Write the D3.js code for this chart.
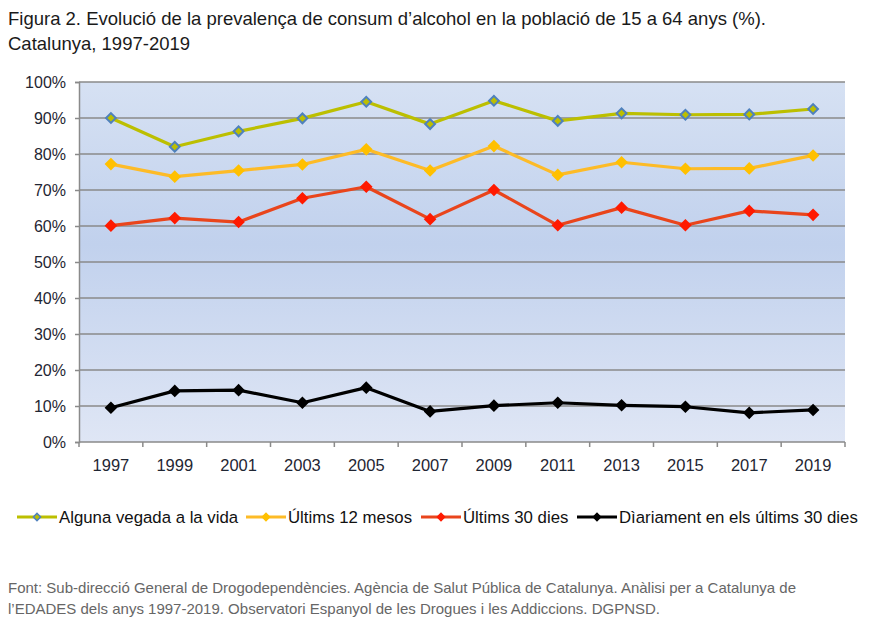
<!DOCTYPE html>
<html>
<head>
<meta charset="utf-8">
<script src="https://cdn.jsdelivr.net/npm/d3@7"></script>
<style>
  body { margin: 0; background: #fff; }
  svg text { font-family: "Liberation Sans", Arial, sans-serif; }
</style>
</head>
<body>
<div class="chart"></div>
<script>
'use strict';

// Data (% of population 15-64)
const years = ["1997", "1999", "2001", "2003", "2005", "2007", "2009", "2011", "2013", "2015", "2017", "2019"];
const algunaVegada = [90.0, 82.0, 86.3, 89.9, 94.5, 88.3, 94.8, 89.2, 91.3, 90.9, 91.0, 92.5];
const ultims12 = [77.2, 73.7, 75.4, 77.1, 81.3, 75.4, 82.2, 74.2, 77.7, 75.9, 76.0, 79.6];
const ultims30 = [60.1, 62.2, 61.1, 67.7, 70.9, 61.9, 70.0, 60.2, 65.1, 60.2, 64.2, 63.1];
const diariament = [9.5, 14.2, 14.4, 10.9, 15.1, 8.5, 10.1, 10.9, 10.2, 9.8, 8.1, 8.9];
const yTicks = [0, 10, 20, 30, 40, 50, 60, 70, 80, 90, 100];
const seriesNames = ["Alguna vegada a la vida", "Últims 12 mesos", "Últims 30 dies", "Dìariament en els últims 30 dies"];

document.addEventListener('DOMContentLoaded', () => {

  const W = 878, H = 640;
  const margin = {top: 82, left: 79, right: 33, bottom: 198};
  const w = W - margin.left - margin.right;
  const h = H - margin.top - margin.bottom;

  const series = [
    {name: seriesNames[0], values: algunaVegada, line: "#bcbf00", fill: "#bcbf00", stroke: "#4f81bd"},
    {name: seriesNames[1], values: ultims12, line: "#fdbb27", fill: "#ffc000", stroke: "#ffc000"},
    {name: seriesNames[2], values: ultims30, line: "#e9451c", fill: "#ff1a00", stroke: "#ff1a00"},
    {name: seriesNames[3], values: diariament, line: "#000000", fill: "#000000", stroke: "#000000"}
  ];

  const svg = d3.select(".chart")
    .append("svg")
    .attr("width", W)
    .attr("height", H);

  // title
  const title = svg.append("text")
    .attr("x", 8)
    .attr("y", 25)
    .style("font-size", "18.5px")
    .style("fill", "#1a1a1a");
  title.append("tspan").text("Figura 2. Evolució de la prevalença de consum d’alcohol en la població de 15 a 64 anys (%).");
  title.append("tspan").attr("x", 8).attr("dy", 25).text("Catalunya, 1997-2019");

  // background gradient
  const grad = svg.append("defs").append("linearGradient")
    .attr("id", "bg")
    .attr("x1", 0).attr("y1", 0).attr("x2", 0).attr("y2", 1);
  grad.append("stop").attr("offset", "0%").attr("stop-color", "#d6e1f3");
  grad.append("stop").attr("offset", "45%").attr("stop-color", "#c1d1ed");
  grad.append("stop").attr("offset", "100%").attr("stop-color", "#dfe6f5");

  const g = svg.append("g")
    .attr("transform", `translate(${margin.left}, ${margin.top})`);

  g.append("rect")
    .attr("width", w)
    .attr("height", h)
    .style("fill", "url(#bg)");

  // scales
  const xScale = d3.scaleBand().domain(years).range([0, w]);
  const yScale = d3.scaleLinear().domain([0, 100]).range([h, 0]);

  // gridlines
  g.append("g")
    .selectAll("line")
    .data(yTicks.filter(d => d > 0))
    .enter()
    .append("line")
    .attr("x1", 0)
    .attr("x2", w)
    .attr("y1", d => yScale(d))
    .attr("y2", d => yScale(d))
    .style("stroke", "#8a8a8a")
    .style("stroke-width", 1.5);

  // y axis
  const yAxis = d3.axisLeft(yScale)
    .tickValues(yTicks)
    .tickFormat(d => d + "%")
    .tickSize(4)
    .tickPadding(9);
  const ya = g.append("g").attr("id", "y-axis").call(yAxis);
  ya.select(".domain").style("stroke", "#8a8a8a").style("stroke-width", 1.5);
  ya.selectAll(".tick line").style("stroke", "#8a8a8a").style("stroke-width", 1.5);
  ya.selectAll("text").style("font-size", "16px").style("fill", "#1f2633")
    .style("font-family", '"Liberation Sans", Arial, sans-serif');

  // x axis: ticks at band edges
  const xa = g.append("g")
    .attr("id", "x-axis")
    .attr("transform", `translate(0, ${h})`);
  xa.append("line")
    .attr("x1", 0).attr("x2", w)
    .style("stroke", "#8a8a8a").style("stroke-width", 1.5);
  xa.selectAll(".edge")
    .data(years.concat(["end"]))
    .enter()
    .append("line")
    .attr("class", "edge")
    .attr("x1", (d, i) => i < years.length ? xScale(d) : w)
    .attr("x2", (d, i) => i < years.length ? xScale(d) : w)
    .attr("y1", 0).attr("y2", 5)
    .style("stroke", "#8a8a8a").style("stroke-width", 1.5);
  xa.selectAll(".lbl")
    .data(years)
    .enter()
    .append("text")
    .attr("class", "lbl")
    .attr("x", d => xScale(d) + xScale.bandwidth() / 2)
    .attr("y", 29)
    .attr("text-anchor", "middle")
    .style("font-size", "16.5px")
    .style("fill", "#1f2633")
    .text(d => d);

  // lines
  const line = d3.line()
    .x((d, i) => xScale(years[i]) + xScale.bandwidth() / 2)
    .y(d => yScale(d));
  const diamond = d3.symbol().type(d3.symbolSquare).size(48);

  series.forEach(s => {
    g.append("path")
      .datum(s.values)
      .attr("d", line)
      .style("fill", "none")
      .style("stroke", s.line)
      .style("stroke-width", 3.2)
      .style("stroke-linejoin", "round");
    g.selectAll(null)
      .data(s.values)
      .enter()
      .append("path")
      .attr("d", diamond)
      .attr("transform", (d, i) =>
        `translate(${xScale(years[i]) + xScale.bandwidth() / 2}, ${yScale(d)}) rotate(45)`)
      .style("fill", s.fill)
      .style("stroke", s.stroke)
      .style("stroke-width", 2);
  });

  // legend
  const legendX = [17, 246, 421, 577];
  const legendDiamond = d3.symbol().type(d3.symbolSquare).size(26);
  const legend = svg.append("g")
    .attr("id", "legend")
    .attr("transform", "translate(0, 517)");
  const items = legend.selectAll("g")
    .data(series)
    .enter()
    .append("g")
    .attr("transform", (d, i) => `translate(${legendX[i]}, 0)`);
  items.append("line")
    .attr("x1", 0).attr("x2", 40)
    .style("stroke", d => d.line)
    .style("stroke-width", 3.2);
  items.append("path")
    .attr("d", legendDiamond)
    .attr("transform", "translate(20, 0) rotate(45)")
    .style("fill", d => d.fill)
    .style("stroke", d => d.stroke)
    .style("stroke-width", 1.5);
  items.append("text")
    .attr("x", 42)
    .attr("y", 6)
    .style("font-size", "16.8px")
    .style("fill", "#111")
    .text(d => d.name);

  // source
  const src = svg.append("text")
    .attr("x", 8)
    .attr("y", 593)
    .style("font-size", "15px")
    .style("fill", "#666");
  src.append("tspan")
    .text("Font: Sub-direcció General de Drogodependències. Agència de Salut Pública de Catalunya. Anàlisi per a Catalunya de");
  src.append("tspan").attr("x", 8).attr("dy", 21)
    .text("l’EDADES dels anys 1997-2019. Observatori Espanyol de les Drogues i les Addiccions. DGPNSD.");
});
</script>
</body>
</html>
